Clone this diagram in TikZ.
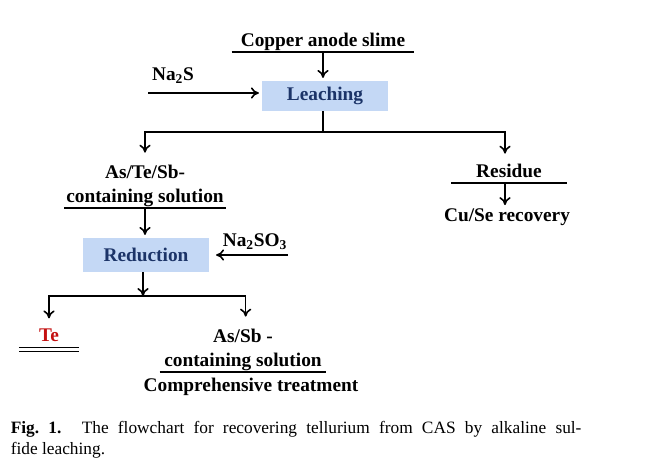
\documentclass[tikz,border=0pt]{standalone}
\usepackage{fontspec}
\setmainfont{Liberation Serif}
\usetikzlibrary{arrows.meta}
\definecolor{boxblue}{RGB}{196,216,245}
\definecolor{navy}{RGB}{28,52,104}
\definecolor{tered}{RGB}{196,16,16}
\begin{document}
\begin{tikzpicture}[x=0.75pt,y=-0.75pt,line width=1.2pt,
  >={To[length=6pt,width=8.5pt]},
  lbl/.style={font=\bfseries\fontsize{14.5}{17.5}\selectfont,inner sep=1pt,align=center},
  ul/.style={lbl,minimum width=#1,anchor=south,text depth=0.28em},
  stage/.style={fill=boxblue,minimum width=94pt,font=\bfseries\fontsize{14.5}{17.5}\selectfont,text=navy},
  feed/.style={font=\bfseries\fontsize{14.5}{17.5}\selectfont,inner sep=1pt}]
  \useasboundingbox (0,0) rectangle (646,460);
  \node[ul=136pt] (slime) at (323,52) {Copper anode slime};
  \draw (slime.south west) -- (slime.south east);
  \node[stage,minimum height=22pt] (leach) at (325,96) {Leaching};
  \node[feed] (nas) at (173,76) {Na$_\mathbf{2}$S};
  \coordinate (nasin) at (148,93);
  \draw[->,shorten >=2pt] (slime.south) -- (leach.north-|slime.south);
  \draw[->,shorten >=2pt] (nasin) -- (nasin-|leach.west);
  \coordinate (j1) at (323,132);
  \draw (leach.south-|j1) -- (j1);
  \node[ul=119pt] (sol) at (145,208) {As/Te/Sb-\\containing solution};
  \draw (sol.south west) -- (sol.south east);
  \node[ul=85.5pt] (res) at (509,183) {Residue};
  \draw (res.south west) -- (res.south east);
  \node[lbl] (cuse) at (507,217) {Cu/Se recovery};
  \draw[->,shorten >=8pt] (j1) -| (sol.north);
  \draw[->,shorten >=6pt] (j1) -| ([xshift=-3pt]res.north);
  \draw[->,shorten >=1pt] ([xshift=-3pt]res.south) -- ([xshift=-3pt]res.south|-cuse.north);
  \node[stage,minimum height=25pt] (red) at (146,255) {Reduction};
  \draw[->,shorten >=2pt] (sol.south) -- (red.north-|sol.south);
  \node[feed] (naso) at (255,242) {Na$_\mathbf{2}$SO$_\mathbf{3}$};
  \coordinate (nasoin) at (288,255);
  \draw[->,shorten >=5pt] (nasoin) -- (red.east);
  \coordinate (j2) at (143,296);
  \draw[->] (red.south-|j2) -- (j2);
  \node[ul=44pt,text=tered] (te) at (49,347) {Te};
  \draw[double,double distance=1.8pt,line width=1.1pt] ([yshift=-2pt]te.south west) -- ([yshift=-2pt]te.south east);
  \node[ul=124pt] (assb) at (243,372) {As/Sb -\\containing solution};
  \draw (assb.south west) -- (assb.south east);
  \node[lbl] (treat) at (251,387) {Comprehensive treatment};
  \draw[->,shorten >=6pt] (j2) -| (te.north);
  \draw[->,shorten >=8pt] (j2) -| ([xshift=2pt]assb.north);
  \node[anchor=north west,text width=428pt,align=justify,inner sep=0pt,
    font=\fontsize{13}{15.8}\selectfont] (cap) at (10,420)
    {\textbf{Fig.~1.} The flowchart for recovering tellurium from CAS by alkaline sul-\linebreak fide leaching.};
\end{tikzpicture}
\end{document}
